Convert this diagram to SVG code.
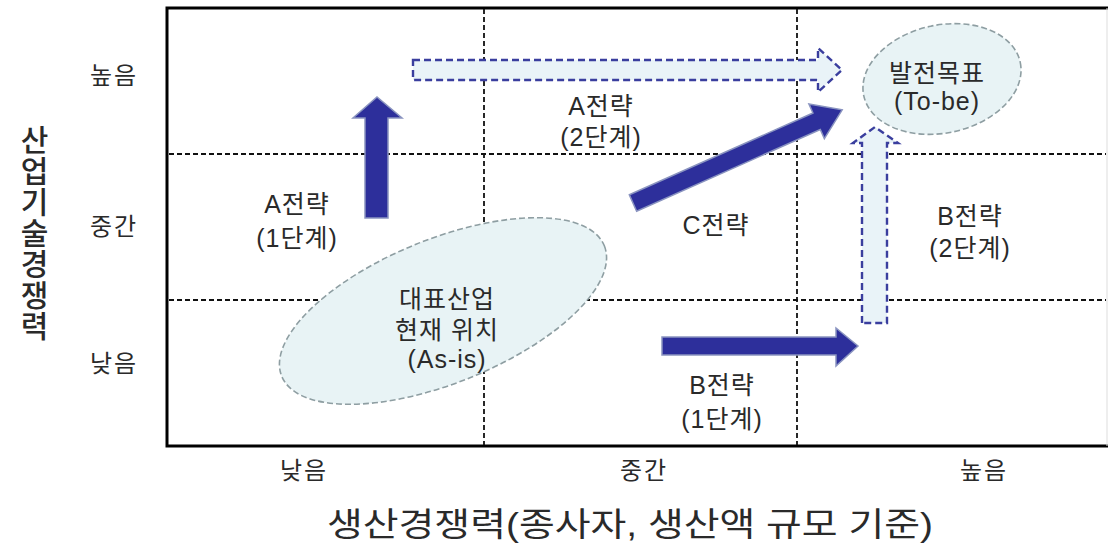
<svg xmlns="http://www.w3.org/2000/svg" width="1108" height="546" viewBox="0 0 1108 546">
<style>
text{font-family:"Liberation Sans","Noto Sans CJK KR",sans-serif;fill:#2a2a2a;text-anchor:middle}
.lbl{font-size:25px;letter-spacing:1px}
.tick{font-size:24px;letter-spacing:2px}
.axis{font-size:30px;font-weight:500;writing-mode:vertical-rl;text-anchor:start;letter-spacing:1px}
.title{font-size:33px}
.grid{stroke:#111;stroke-width:1.8;stroke-dasharray:5 3;fill:none}
.solid{fill:#2d2f9b;stroke:#8a94c0;stroke-width:1.5}
.dashed{fill:#e9f3f8;stroke:#3a3e9e;stroke-width:2.4;stroke-dasharray:7 4}
.ell{fill:#e8f3f5;stroke:#8e9ea2;stroke-width:1.6;stroke-dasharray:6 3}
</style>
<rect width="1108" height="546" fill="#fff"/>
<g id="frame">
<path d="M1108,8 H167 V446 H1108" fill="none" stroke="#000" stroke-width="3"/>
<line x1="1107" y1="8" x2="1107" y2="446" stroke="#ddd" stroke-width="1"/>
</g>
<g id="grid">
<line class="grid" x1="484" y1="9" x2="484" y2="445"/>
<line class="grid" x1="797" y1="9" x2="797" y2="445"/>
<line class="grid" x1="169" y1="154" x2="1106" y2="154"/>
<line class="grid" x1="169" y1="300" x2="1106" y2="300"/>
</g>
<g id="asis">
<ellipse class="ell" cx="443" cy="311" rx="174" ry="72" transform="rotate(-22 443 311)"/>
<text class="lbl" x="447" y="308">대표산업</text>
<text class="lbl" x="447" y="339">현재 위치</text>
<text class="lbl" x="447" y="368">(As-is)</text>
</g>
<g id="tobe">
<ellipse class="ell" cx="942" cy="79" rx="80" ry="54" transform="rotate(-12 942 79)"/>
<text class="lbl" x="937" y="82">발전목표</text>
<text class="lbl" x="937" y="110">(To-be)</text>
</g>
<g id="connectors">
<polygon id="arrowA1" class="solid" points="365,218 365,118 353,118 377,97 402,118 388,118 388,218"/>
<polygon id="arrowA2" class="dashed" points="413,60 818,60 818,48 842,70 818,92 818,80 413,80"/>
<polygon id="arrowC" class="solid" transform="translate(633,203) rotate(-24)" points="0,-9 201,-9 201,-19 229,0 201,19 201,9 0,9"/>
<polygon id="arrowB1" class="solid" points="662,337 836,337 836,328 858,346 836,366 836,355 662,355"/>
<polygon id="arrowB2" class="dashed" points="862,323 862,143 853,143 875,127 898,143 887,143 887,323"/>
</g>
<g id="labels">
<text class="lbl" x="601" y="115">A전략</text>
<text class="lbl" x="601" y="146">(2단계)</text>
<text class="lbl" x="297" y="213">A전략</text>
<text class="lbl" x="297" y="247">(1단계)</text>
<text class="lbl" x="716" y="234">C전략</text>
<text class="lbl" x="970" y="225">B전략</text>
<text class="lbl" x="970" y="257">(2단계)</text>
<text class="lbl" x="722" y="394">B전략</text>
<text class="lbl" x="722" y="428">(1단계)</text>
</g>
<g id="yaxis">
<text class="tick" x="114" y="84">높음</text>
<text class="tick" x="114" y="235">중간</text>
<text class="tick" x="114" y="372">낮음</text>
<text class="axis" x="32" y="125">산업기술경쟁력</text>
</g>
<g id="xaxis">
<text class="tick" x="304" y="479">낮음</text>
<text class="tick" x="644" y="479">중간</text>
<text class="tick" x="984" y="479">높음</text>
<text class="title" x="630" y="536" textLength="606" lengthAdjust="spacingAndGlyphs">생산경쟁력(종사자, 생산액 규모 기준)</text>
</g>
</svg>
